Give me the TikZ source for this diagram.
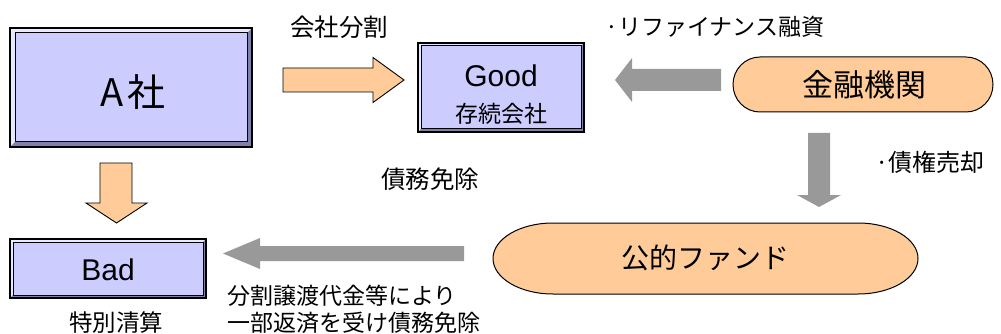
\documentclass[tikz,border=0pt]{standalone}
\usepackage{fontspec}
\setmainfont{Liberation Sans}
\newfontfamily\jp{Noto Sans CJK JP}
\definecolor{boxfill}{HTML}{CCCCFF}
\definecolor{bevlight}{HTML}{E8E8FF}
\definecolor{bevdark}{HTML}{8080A8}
\definecolor{orangefill}{HTML}{FFCC99}
\definecolor{greyarrow}{HTML}{999999}
\tikzset{
  lbl/.style={inner sep=0pt, font=\jp\fontsize{23}{26}\selectfont},
  orangearr/.style={fill=orangefill, draw=black, line width=0.9pt, line join=miter},
  greyarr/.style={fill=greyarrow, draw=none},
  stadium/.style={fill=orangefill, draw=black, line width=1pt},
}
% bevel box: #1 name, #2 x1, #3 y1, #4 x2, #5 y2, #6 bevel width
\newcommand{\bevbox}[6]{%
  \fill[boxfill] (#2,#3) rectangle (#4,#5);
  \fill[bevlight] (#2,#3) -- (#4,#3) -- ($(#4,#3)+(-#6,#6)$) -- ($(#2,#3)+(#6,#6)$) -- ($(#2,#5)+(#6,-#6)$) -- (#2,#5) -- cycle;
  \fill[bevdark] (#4,#5) -- (#2,#5) -- ($(#2,#5)+(#6,-#6)$) -- ($(#4,#5)+(-#6,-#6)$) -- ($(#4,#3)+(-#6,#6)$) -- (#4,#3) -- cycle;
  \draw[line width=1pt] ($(#2,#3)+(#6,#6)$) rectangle ($(#4,#5)+(-#6,-#6)$);
  \draw[line width=2pt] (#2,#3) rectangle (#4,#5);
  \coordinate (#1) at ($(#2,#3)!0.5!(#4,#5)$);
}
\usetikzlibrary{calc}
\begin{document}
\begin{tikzpicture}[x=1pt,y=-1pt]
\useasboundingbox (0,0) rectangle (1001,334);

% boxes
\bevbox{A}{10}{28}{252}{147}{5}
\node[inner sep=0pt, font=\jp\fontsize{38}{44}\selectfont] (Atext) at (133,92) {A\hspace{4pt}社};

\bevbox{G}{418}{43}{584}{132}{3}
\node[inner sep=0pt, font=\fontsize{30}{34}\selectfont] (Gtext) at (501,76) {Good};
\node[inner sep=0pt, font=\jp\fontsize{23}{26}\selectfont] (Gsub) at (501,114) {存続会社};

\bevbox{B}{10}{239}{206}{298}{3}
\node[inner sep=0pt, font=\fontsize{30}{34}\selectfont] (Btext) at (108,270) {Bad};

% stadiums
\path[stadium] (760,57) -- (966,57) arc[start angle=-90,end angle=90,x radius=27,y radius=27.5] -- (760,112) arc[start angle=90,end angle=270,x radius=27,y radius=27.5] -- cycle;
\node[inner sep=0pt, font=\jp\fontsize{31}{34}\selectfont] (kinyu) at (864,85) {金融機関};

\path[stadium] (553,223) -- (858,223) arc[start angle=-90,end angle=90,x radius=60,y radius=35.5] -- (553,294) arc[start angle=90,end angle=270,x radius=60,y radius=35.5] -- cycle;
\node[inner sep=0pt, font=\jp\fontsize{28}{34}\selectfont] (fund) at (705,258) {公的ファンド};

% arrows
\draw[orangearr] (283,68) -- (373,68) -- (373,57.5) -- (404,80) -- (373,102.5) -- (373,92) -- (283,92) -- cycle;
\fill[greyarr] (721,69) -- (632,69) -- (632,58) -- (615,80) -- (632,102) -- (632,91) -- (721,91) -- cycle;
\fill[greyarr] (808,133) -- (808,195) -- (797,195) -- (819,207) -- (841,195) -- (830,195) -- (830,133) -- cycle;
\fill[greyarr] (464,246) -- (260,246) -- (260,238) -- (223,253.5) -- (260,269) -- (260,261) -- (464,261) -- cycle;
\draw[orangearr] (100,163) -- (100,203) -- (86,203) -- (116.5,223) -- (147,203) -- (132,203) -- (132,163) -- cycle;

% labels
\node[lbl, font=\jp\fontsize{24.5}{26}\selectfont] (l1) at (339,27) {会社分割};
\node[lbl, anchor=west] (l2) at (605,27) {·リファイナンス融資};
\node[lbl, font=\jp\fontsize{24.5}{26}\selectfont] (l3) at (430,179) {債務免除};
\node[lbl, anchor=west, font=\jp\fontsize{24}{26}\selectfont] (l4) at (875,162) {·債権売却};
\node[lbl, font=\jp\fontsize{23.5}{26}\selectfont] (l5) at (116,323) {特別清算};
\node[lbl, anchor=west] (l6) at (227,296) {分割譲渡代金等により};
\node[lbl, anchor=west] (l7) at (227,323) {一部返済を受け債務免除};
\end{tikzpicture}
\end{document}
